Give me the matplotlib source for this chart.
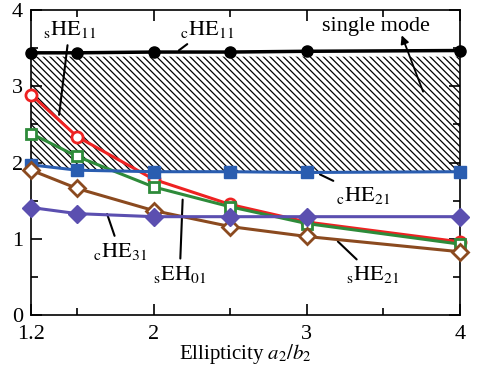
import numpy as np
import matplotlib
matplotlib.use("Agg")
import matplotlib.pyplot as plt

plt.rcParams['font.family'] = ['Liberation Serif', 'DejaVu Serif']
plt.rcParams['mathtext.fontset'] = 'stix'
plt.rcParams['hatch.linewidth'] = 0.9

# ellipticity a2/b2
ellip = [1.2, 1.5, 2.0, 2.5, 3.0, 4.0]

c_he11 = [3.44, 3.44, 3.45, 3.45, 3.46, 3.47]
s_he11 = [2.89, 2.34, 1.78, 1.45, 1.22, 0.96]
s_eh01 = [2.38, 2.08, 1.68, 1.42, 1.20, 0.93]
c_he21 = [1.97, 1.90, 1.88, 1.88, 1.87, 1.88]
s_he21 = [1.90, 1.66, 1.37, 1.16, 1.03, 0.83]
c_he31 = [1.41, 1.33, 1.29, 1.29, 1.29, 1.29]

hatch_top = 3.39

fig = plt.figure(figsize=(4.8, 3.75), dpi=100)
ax = fig.add_axes([0.065, 0.16, 0.893, 0.813])

ax.fill_between(ellip, c_he21, hatch_top, facecolor='white', edgecolor='black',
                hatch='\\\\\\\\\\', linewidth=0)

ax.plot(ellip, c_he11, 'k-o', lw=2.5, ms=8, clip_on=False, zorder=5)
ax.plot(ellip, s_he11, '-o', color='#ee2222', lw=2.2, ms=8, mfc='white',
        mew=2, clip_on=False, zorder=4)
ax.plot(ellip, s_eh01, '-s', color='#2e8b3a', lw=2.2, ms=7.5, mfc='white',
        mew=2, clip_on=False, zorder=4)
ax.plot(ellip, c_he21, '-s', color='#2a5db0', lw=2.2, ms=9, clip_on=False,
        zorder=4)
ax.plot(ellip, s_he21, '-D', color='#8b4a1f', lw=2.2, ms=8, mfc='white',
        mew=2, clip_on=False, zorder=4)
ax.plot(ellip, c_he31, '-D', color='#5b4fb0', lw=2.2, ms=9, clip_on=False,
        zorder=4)

ax.set_xlim(1.2, 4)
ax.set_ylim(0, 4)
ax.set_xticks([1.2, 2, 3, 4])
ax.set_xticklabels(['1.2', '2', '3', '4'])
ax.set_xticks([1.5, 2.5, 3.5], minor=True)
ax.set_yticks([0, 1, 2, 3, 4])
ax.set_yticks([0.5, 1.5, 2.5, 3.5], minor=True)
ax.tick_params(which='both', direction='in', top=True, right=True, labelsize=16)
ax.tick_params(which='major', length=8, width=1.2)
ax.tick_params(which='minor', length=5, width=1.2)
ax.tick_params(axis='y', pad=6)
ax.tick_params(axis='x', pad=7)
for s in ax.spines.values():
    s.set_linewidth(1.2)

ax.set_xlabel(r'Ellipticity $a_2/b_2$', fontsize=15, labelpad=-1)

lbl = dict(fontsize=16, ha='center', va='center')
line = dict(arrowstyle='-', color='black', lw=1.5)

ax.annotate(r'${}_{\mathrm{s}}\mathrm{HE}_{11}$', xy=(1.38, 2.59),
            xytext=(1.45, 3.75), arrowprops=line, **lbl)
ax.annotate(r'${}_{\mathrm{c}}\mathrm{HE}_{11}$', xy=(2.15, 3.45),
            xytext=(2.35, 3.75), arrowprops=line, **lbl)
ax.annotate('', xy=(3.62, 3.67), xytext=(3.76, 2.93),
            arrowprops=dict(arrowstyle='-|>', color='black', lw=1.3,
                            mutation_scale=12, shrinkA=0, shrinkB=0))
ax.text(3.45, 3.79, 'single mode', fontsize=16, ha='center', va='center',
        zorder=6)
ax.annotate(r'${}_{\mathrm{c}}\mathrm{HE}_{21}$', xy=(3.07, 1.86),
            xytext=(3.37, 1.57), arrowprops=line, **lbl)
ax.annotate(r'${}_{\mathrm{s}}\mathrm{HE}_{21}$', xy=(3.19, 0.99),
            xytext=(3.43, 0.53), arrowprops=line, **lbl)
ax.annotate(r'${}_{\mathrm{c}}\mathrm{HE}_{31}$', xy=(1.69, 1.36),
            xytext=(1.78, 0.83), arrowprops=line, **lbl)
ax.annotate(r'${}_{\mathrm{s}}\mathrm{EH}_{01}$', xy=(2.19, 1.55),
            xytext=(2.17, 0.53), arrowprops=line, **lbl)

fig.savefig('out.png', dpi=100)
